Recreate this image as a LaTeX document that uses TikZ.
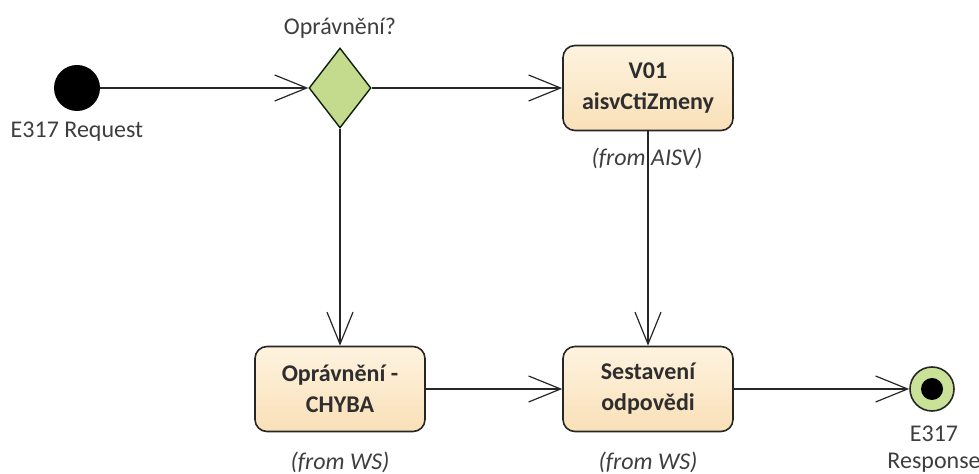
\documentclass[tikz,border=0pt]{standalone}
\usepackage{fontspec}
\setmainfont{Carlito}
\usetikzlibrary{shapes.geometric,arrows.meta}

\newlength{\du}
\setlength{\du}{0.5pt}

\definecolor{actfilltop}{RGB}{254,243,223}
\definecolor{actfillbot}{RGB}{249,224,184}
\definecolor{decfill}{RGB}{196,219,141}
\definecolor{endfill}{RGB}{202,226,152}
\definecolor{labeltext}{RGB}{62,62,62}
\definecolor{dialinecolor}{RGB}{38,38,38}

\tikzset{
  action/.style={draw=dialinecolor, line width=1.6\du, rounded corners=12\du,
    top color=actfilltop, bottom color=actfillbot,
    minimum width=170\du, minimum height=85\du, inner sep=0pt, align=center,
    text=black!82, font=\fontsize{12}{15.5}\selectfont\bfseries},
  decision/.style={diamond, draw=dialinecolor!80!green!40!black, line width=1.4\du,
    fill=decfill, minimum width=62\du, minimum height=80\du, inner sep=0pt},
  startnode/.style={circle, fill=black, minimum size=46\du, inner sep=0pt},
  endnode/.style={circle, draw=dialinecolor, line width=1.6\du, fill=endfill,
    minimum size=44\du, inner sep=0pt},
  lbl/.style={text=labeltext, inner sep=0pt, font=\fontsize{12}{13.5}\selectfont},
  fromlbl/.style={lbl, font=\fontsize{12}{13.5}\selectfont\itshape},
  flow/.style={draw=dialinecolor, line width=1.2\du,
    -{Straight Barb[length=16pt, width=13pt]}}
}

\begin{document}
\begin{tikzpicture}[x=\du, y=-\du]
\useasboundingbox (0,0) rectangle (979,474);

% start / decision
\node[startnode] (request) at (77,88) {};
\node[lbl] (requestlbl) at (77,132) {E317 Request};
\node[decision] (opr) at (340,88) {};
\node[lbl] (oprlbl) at (340,28) {Oprávnění?};

% actions
\node[action] (ctizmeny) at (648,88) {V01\\aisvCtiZmeny};
\node[fromlbl] (ctizmenyfrom) at (647,158) {(from AISV)};
\node[action] (chyba) at (340,389) {Oprávnění -\\CHYBA};
\node[fromlbl] (chybafrom) at (340,462) {(from WS)};
\node[action] (sestaveni) at (648,389) {Sestavení\\odpovědi};
\node[fromlbl] (sestavenifrom) at (648,462) {(from WS)};

% end
\node[endnode] (response) at (932,389) {};
\fill[black] (response.center) circle (11\du);
\node[lbl, align=center] (responselbl) at (934,449) {E317\\Response};

% flows
\draw[flow] (request) -- (opr.west);
\draw[flow] (opr.east) -- (ctizmeny.west);
\draw[flow] (opr.south) -- (chyba.north);
\draw[flow] (ctizmeny.south) -- (sestaveni.north);
\draw[flow] (chyba.east) -- (sestaveni.west);
\draw[flow] (sestaveni.east) -- (response.west);
\end{tikzpicture}
\end{document}
